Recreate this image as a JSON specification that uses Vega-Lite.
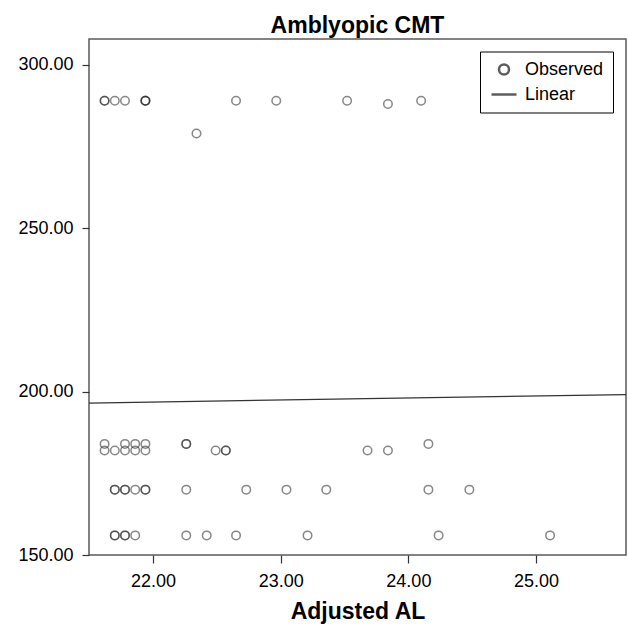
{
  "$schema": "https://vega.github.io/schema/vega-lite/v6.json",
  "width": 537,
  "height": 516,
  "autosize": {"type": "none"},
  "padding": {"left": 89, "top": 39, "right": 2, "bottom": 71},
  "background": "white",
  "config": {
    "font": "Liberation Sans",
    "view": {"stroke": "#5a5a5a", "strokeWidth": 1.5}
  },
  "title": {
    "text": "Amblyopic CMT",
    "fontSize": 23,
    "fontWeight": "bold",
    "color": "#000000",
    "anchor": "middle",
    "baseline": "alphabetic",
    "offset": 10,
    "dy": 27
  },
  "datasets": {
    "observed": [
      {"al": 21.62, "cmt": 289}, {"al": 21.62, "cmt": 289}, {"al": 21.70, "cmt": 289}, {"al": 21.78, "cmt": 289},
      {"al": 21.94, "cmt": 289}, {"al": 21.94, "cmt": 289}, {"al": 21.94, "cmt": 289},
      {"al": 22.65, "cmt": 289}, {"al": 22.965, "cmt": 289}, {"al": 23.52, "cmt": 289}, {"al": 24.10, "cmt": 289},
      {"al": 23.84, "cmt": 288},
      {"al": 22.34, "cmt": 279},
      {"al": 21.62, "cmt": 184}, {"al": 21.78, "cmt": 184}, {"al": 21.86, "cmt": 184}, {"al": 21.94, "cmt": 184},
      {"al": 22.26, "cmt": 184}, {"al": 22.26, "cmt": 184}, {"al": 24.157, "cmt": 184},
      {"al": 21.62, "cmt": 182}, {"al": 21.70, "cmt": 182}, {"al": 21.78, "cmt": 182}, {"al": 21.86, "cmt": 182},
      {"al": 21.94, "cmt": 182}, {"al": 22.49, "cmt": 182}, {"al": 22.57, "cmt": 182}, {"al": 22.57, "cmt": 182},
      {"al": 23.68, "cmt": 182}, {"al": 23.84, "cmt": 182},
      {"al": 21.70, "cmt": 170}, {"al": 21.70, "cmt": 170}, {"al": 21.78, "cmt": 170}, {"al": 21.78, "cmt": 170},
      {"al": 21.86, "cmt": 170}, {"al": 21.94, "cmt": 170}, {"al": 21.94, "cmt": 170}, {"al": 22.26, "cmt": 170},
      {"al": 22.73, "cmt": 170}, {"al": 23.045, "cmt": 170}, {"al": 23.357, "cmt": 170}, {"al": 24.157, "cmt": 170},
      {"al": 24.478, "cmt": 170},
      {"al": 21.70, "cmt": 156}, {"al": 21.70, "cmt": 156}, {"al": 21.78, "cmt": 156}, {"al": 21.78, "cmt": 156},
      {"al": 21.86, "cmt": 156}, {"al": 22.26, "cmt": 156}, {"al": 22.42, "cmt": 156}, {"al": 22.65, "cmt": 156},
      {"al": 23.21, "cmt": 156}, {"al": 24.237, "cmt": 156}, {"al": 25.11, "cmt": 156}
    ],
    "linear": [
      {"al": 21.498, "cmt": 196.5},
      {"al": 25.705, "cmt": 199.1}
    ]
  },
  "layer": [
    {
      "data": {"name": "observed"},
      "mark": {"type": "point", "filled": false, "stroke": "#2a2a2a", "strokeWidth": 1.5, "strokeOpacity": 0.8, "size": 72, "clip": true},
      "encoding": {
        "x": {
          "field": "al", "type": "quantitative",
          "scale": {"domain": [21.498, 25.705], "nice": false, "zero": false},
          "axis": {
            "values": [22, 23, 24, 25], "format": ".2f", "grid": false, "domain": false,
            "tickSize": 8, "tickColor": "#333333", "tickWidth": 1.2,
            "labelFontSize": 18, "labelColor": "#000000", "labelPadding": 9,
            "title": "Adjusted AL", "titleFontSize": 23, "titleFontWeight": "bold", "titleColor": "#000000", "titlePadding": 10
          }
        },
        "y": {
          "field": "cmt", "type": "quantitative",
          "scale": {"domain": [150, 307.9], "nice": false, "zero": false},
          "axis": {
            "values": [150, 200, 250, 300], "format": ".2f", "grid": false, "domain": false,
            "tickSize": 7, "tickColor": "#333333", "tickWidth": 1.2,
            "labelFontSize": 18, "labelColor": "#000000", "labelPadding": 9,
            "title": null
          }
        },
        "shape": {
          "datum": "Observed",
          "type": "nominal",
          "scale": {"domain": ["Observed", "Linear"], "range": ["circle", "M-2.5,0H2.5"]},
          "legend": {
            "title": null,
            "orient": "none",
            "legendX": 391,
            "legendY": 12.5,
            "strokeColor": "#000000",
            "fillColor": "white",
            "padding": 9,
            "rowPadding": 6,
            "symbolSize": 100,
            "symbolOffset": 6,
            "labelOffset": 12,
            "symbolStrokeColor": "#1a1a1a",
            "symbolStrokeWidth": 2.5,
            "symbolFillColor": "transparent",
            "labelFontSize": 18,
            "labelColor": "#000000",
            "labelFont": "Liberation Sans",
            "encode": {
              "legend": {
                "update": {"strokeWidth": {"value": 1.2}}
              },
              "symbols": {
                "update": {
                  "strokeWidth": {"signal": "datum.value === 'Linear' ? 1.8 : 2.6"},
                  "stroke": {"value": "#1a1a1a"},
                  "fill": {"value": "transparent"},
                  "opacity": {"value": 1}
                }
              }
            }
          }
        }
      }
    },
    {
      "data": {"name": "linear"},
      "mark": {"type": "line", "stroke": "#333333", "strokeWidth": 1.3, "clip": true},
      "encoding": {
        "x": {"field": "al", "type": "quantitative"},
        "y": {"field": "cmt", "type": "quantitative"}
      }
    }
  ]
}
